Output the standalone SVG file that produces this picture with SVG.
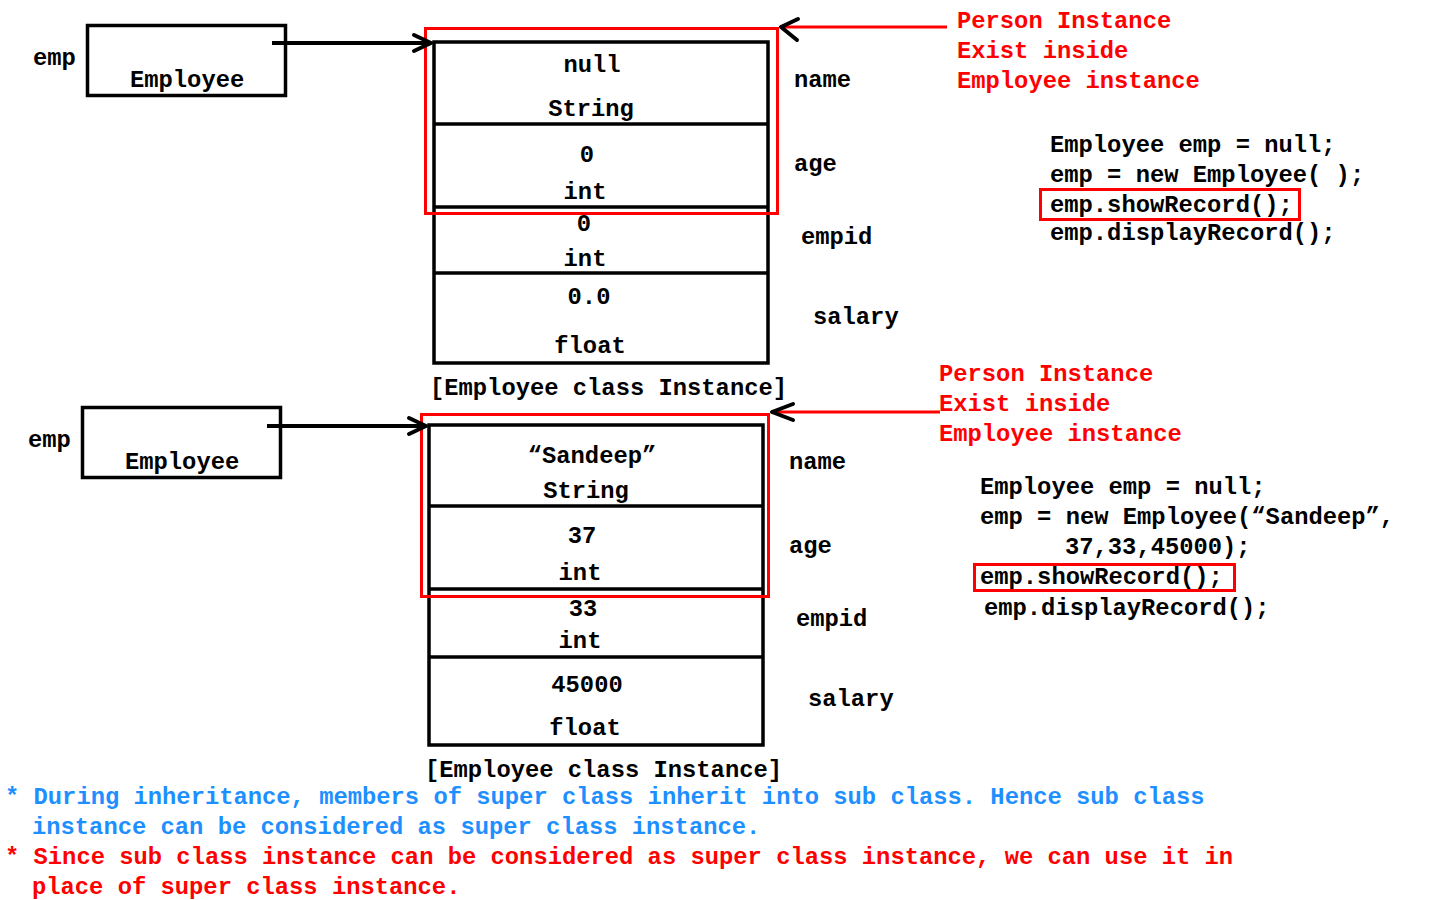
<svg xmlns="http://www.w3.org/2000/svg" width="1440" height="900" viewBox="0 0 1440 900">
<style>
text{font-family:"Liberation Mono","Courier New",monospace;font-weight:bold;font-size:23.8px;fill:#000}
.r{fill:#ff0000}
.b{fill:#1e8fff}
.m{text-anchor:middle}
.box{fill:none;stroke:#000;stroke-width:3.5}
.div{stroke:#000;stroke-width:3.5}
.red{fill:none;stroke:#ff0000;stroke-width:3}
.arr{fill:none;stroke:#000;stroke-width:4}
.ah{fill:none;stroke:#000;stroke-width:4;stroke-linecap:round;stroke-linejoin:round}
</style>
<rect width="1440" height="900" fill="#fff"/>

<!-- TOP -->
<g id="ref1">
<text x="33" y="65">emp</text>
<rect class="box" x="87.5" y="25.5" width="198" height="70"/>
<text x="130" y="87">Employee</text>
</g>

<g id="inst1">
<rect class="box" x="434" y="42" width="334" height="321"/>
<line class="div" x1="434" y1="124" x2="768" y2="124"/>
<line class="div" x1="434" y1="207" x2="768" y2="207"/>
<line class="div" x1="434" y1="273" x2="768" y2="273"/>
<text class="m" x="592" y="72">null</text>
<text class="m" x="591" y="116">String</text>
<text class="m" x="587" y="162">0</text>
<text class="m" x="585" y="199">int</text>
<text class="m" x="584" y="231">0</text>
<text class="m" x="585" y="266">int</text>
<text class="m" x="589" y="304">0.0</text>
<text class="m" x="590" y="353">float</text>
<text x="430" y="395">[Employee class Instance]</text>
</g>

<g id="person1">
<rect class="red" x="425.5" y="28.5" width="352" height="185"/>
</g>

<g id="labels1">
<text x="794" y="87">name</text>
<text x="794" y="171">age</text>
<text x="801" y="244">empid</text>
<text x="813" y="324">salary</text>
</g>

<g id="note1">
<text class="r" x="957" y="28">Person Instance</text>
<text class="r" x="957" y="58">Exist inside</text>
<text class="r" x="957" y="88">Employee instance</text>
</g>

<g id="code1">
<text x="1050" y="152">Employee emp = null;</text>
<text x="1050" y="182">emp = new Employee( );</text>
<rect class="red" x="1040.5" y="189.5" width="259" height="30"/>
<text x="1050" y="212">emp.showRecord();</text>
<text x="1050" y="240">emp.displayRecord();</text>
</g>

<!-- BOTTOM -->
<g id="ref2">
<text x="28" y="447">emp</text>
<rect class="box" x="82.5" y="407.5" width="198" height="70"/>
<text x="125" y="469">Employee</text>
</g>

<g id="inst2">
<rect class="box" x="429" y="425" width="334" height="320"/>
<line class="div" x1="429" y1="506" x2="763" y2="506"/>
<line class="div" x1="429" y1="589" x2="763" y2="589"/>
<line class="div" x1="429" y1="657" x2="763" y2="657"/>
<text class="m" x="592" y="463">“Sandeep”</text>
<text class="m" x="586" y="498">String</text>
<text class="m" x="582" y="543">37</text>
<text class="m" x="580" y="580">int</text>
<text class="m" x="583" y="616">33</text>
<text class="m" x="580" y="648">int</text>
<text class="m" x="587" y="692">45000</text>
<text class="m" x="585" y="735">float</text>
<text x="425" y="777">[Employee class Instance]</text>
</g>

<g id="person2">
<rect class="red" x="421.5" y="414.5" width="347" height="182"/>
</g>

<g id="labels2">
<text x="789" y="469">name</text>
<text x="789" y="553">age</text>
<text x="796" y="626">empid</text>
<text x="808" y="706">salary</text>
</g>

<g id="note2">
<text class="r" x="939" y="381">Person Instance</text>
<text class="r" x="939" y="411">Exist inside</text>
<text class="r" x="939" y="441">Employee instance</text>
</g>

<g id="code2">
<text x="980" y="494">Employee emp = null;</text>
<text x="980" y="524">emp = new Employee(“Sandeep”,</text>
<text x="1065" y="554">37,33,45000);</text>
<rect class="red" x="974.5" y="564.5" width="260" height="26"/>
<text x="980" y="584">emp.showRecord();</text>
<text x="984" y="615">emp.displayRecord();</text>
</g>

<g id="connectors">
<line class="arr" x1="272" y1="43" x2="430" y2="43"/>
<polyline class="ah" points="414,35 431,43 414,51"/>
<line class="arr" x1="267" y1="426" x2="425" y2="426"/>
<polyline class="ah" points="409,418 426,426 409,434"/>
<line class="red" x1="780" y1="27" x2="947" y2="27"/>
<polyline class="ah" points="798,19 781,27 797,40"/>
<line class="red" x1="771" y1="412" x2="940" y2="412"/>
<polyline class="ah" points="793,404 772,412 793,420"/>
</g>

<g id="notes">
<text class="b" x="5" y="804">* During inheritance, members of super class inherit into sub class. Hence sub class</text>
<text class="b" x="32" y="834">instance can be considered as super class instance.</text>
<text class="r" x="5" y="864">* Since sub class instance can be considered as super class instance, we can use it in</text>
<text class="r" x="32" y="894">place of super class instance.</text>
</g>
</svg>
